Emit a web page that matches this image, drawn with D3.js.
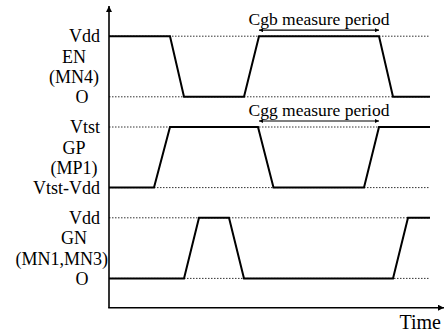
<!DOCTYPE html>
<html>
<head>
<meta charset="utf-8">
<script src="https://cdn.jsdelivr.net/npm/d3@7"></script>
<style>
  html, body { margin: 0; padding: 0; background: #fff; }
  svg { display: block; }
  text { font-family: "Liberation Serif", "Times New Roman", serif; fill: #000; }
</style>
</head>
<body>
<svg id="chart" width="444" height="334"></svg>
<script>
// Signals, top to bottom
const signals = ["EN", "GP", "GN"];
const signalNames = [["EN", "(MN4)"], ["GP", "(MP1)"], ["GN", "(MN1,MN3)"]];
const highLabels = ["Vdd", "Vtst", "Vdd"];
const lowLabels = ["O", "Vtst-Vdd", "O"];

// Waveform breakpoints: time and logic level (1 = high, 0 = low)
const enTimes  = [0, 61, 75, 135, 150, 270, 284, 321];
const enLevels = [1, 1, 0, 0, 1, 1, 0, 0];
const gpTimes  = [0, 45, 61, 149, 164.5, 255, 270, 321];
const gpLevels = [0, 0, 1, 1, 0, 0, 1, 1];
const gnTimes  = [0, 75, 90, 120, 135, 284, 299, 321];
const gnLevels = [0, 0, 1, 1, 0, 0, 1, 1];

// Measurement windows
const periodLabels = ["Cgb measure period", "Cgg measure period"];
const periodLanes = ["EN", "GP"];
const periodStart = [150, 150];
const periodEnd = [270, 270];

const timeEnd = 321;
const axisLabel = "Time";

const waves = [
  { name: "EN", times: enTimes, levels: enLevels },
  { name: "GP", times: gpTimes, levels: gpLevels },
  { name: "GN", times: gnTimes, levels: gnLevels }
];

const svg = d3.select("#chart");

// Scales
const x = d3.scaleLinear().domain([0, 335]).range([109, 444]);
const lane = d3.scaleBand().domain(signals).range([36.2, 36.2 + 3 * 90.8]);
const level = d3.scaleLinear().domain([0, 1]).range([60.6, 0]);
const yOf = (s, v) => lane(s) + level(v);

// Arrowhead markers
const defs = svg.append("defs");
defs.append("marker")
  .attr("id", "axisHead").attr("viewBox", "0 0 10 10")
  .attr("refX", 10).attr("refY", 5)
  .attr("markerUnits", "userSpaceOnUse")
  .attr("markerWidth", 7).attr("markerHeight", 6)
  .attr("orient", "auto")
  .append("path").attr("d", "M0,0 L10,5 L0,10 Z").attr("fill", "#000");
defs.append("marker")
  .attr("id", "spanHead").attr("viewBox", "0 0 10 10")
  .attr("refX", 10).attr("refY", 5)
  .attr("markerUnits", "userSpaceOnUse")
  .attr("markerWidth", 6).attr("markerHeight", 4)
  .attr("orient", "auto-start-reverse")
  .append("path").attr("d", "M0,0 L10,5 L0,10 Z").attr("fill", "#000");

// Dotted reference levels
const refs = [];
signals.forEach(s => { refs.push({ s, v: 1 }); refs.push({ s, v: 0 }); });
svg.append("g").selectAll("line").data(refs).join("line")
  .attr("x1", x(0)).attr("x2", x(timeEnd))
  .attr("y1", d => yOf(d.s, d.v)).attr("y2", d => yOf(d.s, d.v))
  .attr("stroke", "#333").attr("stroke-width", 1)
  .attr("stroke-dasharray", "1.5,1.5");

// Axes
const x0 = x(0), yAxis = 307.7;
svg.append("line")
  .attr("x1", x0).attr("y1", yAxis).attr("x2", x0).attr("y2", 6)
  .attr("stroke", "#000").attr("stroke-width", 1.6)
  .attr("marker-end", "url(#axisHead)");
svg.append("line")
  .attr("x1", x0 - 0.8).attr("y1", yAxis).attr("x2", 444).attr("y2", yAxis)
  .attr("stroke", "#000").attr("stroke-width", 1.6)
  .attr("marker-end", "url(#axisHead)");

// Waveforms
const line = d3.line();
svg.append("g").selectAll("path").data(waves).join("path")
  .attr("d", w => line(w.times.map((t, i) => [x(t), yOf(w.name, w.levels[i])])))
  .attr("fill", "none").attr("stroke", "#000")
  .attr("stroke-width", 2).attr("stroke-linejoin", "miter");

// Measurement windows
const periods = periodLabels.map((label, i) => ({
  label, s: periodLanes[i], t0: periodStart[i], t1: periodEnd[i]
}));
const pg = svg.append("g").selectAll("g").data(periods).join("g");
pg.append("line")
  .attr("x1", d => x(d.t0)).attr("x2", d => x(d.t1))
  .attr("y1", d => yOf(d.s, 1) - 6).attr("y2", d => yOf(d.s, 1) - 6)
  .attr("stroke", "#000").attr("stroke-width", 1.2)
  .attr("marker-start", "url(#spanHead)").attr("marker-end", "url(#spanHead)");
pg.append("text")
  .attr("x", d => (x(d.t0) + x(d.t1)) / 2)
  .attr("y", d => yOf(d.s, 1) - 11.5)
  .attr("text-anchor", "middle")
  .style("font-size", "17.5px")
  .text(d => d.label);

// Lane labels
const lg = svg.append("g").style("font-size", "18px");
signals.forEach((s, i) => {
  lg.append("text").attr("x", 100).attr("y", yOf(s, 1) + 6)
    .attr("text-anchor", "end").text(highLabels[i]);
  signalNames[i].forEach((n, j) => {
    const t = lg.append("text").attr("y", lane(s) + 26.5 + j * 20.3).text(n);
    const w = t.node().getComputedTextLength();
    // centred under the level labels, but kept clear of the axis
    const cx = Math.min(74, 108 - w / 2);
    t.attr("x", cx).attr("text-anchor", "middle");
  });
  const low = lowLabels[i];
  lg.append("text").attr("y", yOf(s, 0) + 6.5)
    .attr("x", low === "O" ? 82 : 100)
    .attr("text-anchor", low === "O" ? "middle" : "end")
    .text(low);
});

// Time axis label
svg.append("text")
  .attr("x", 441).attr("y", 329.3)
  .attr("text-anchor", "end")
  .style("font-size", "20px")
  .text(axisLabel);
</script>
</body>
</html>
